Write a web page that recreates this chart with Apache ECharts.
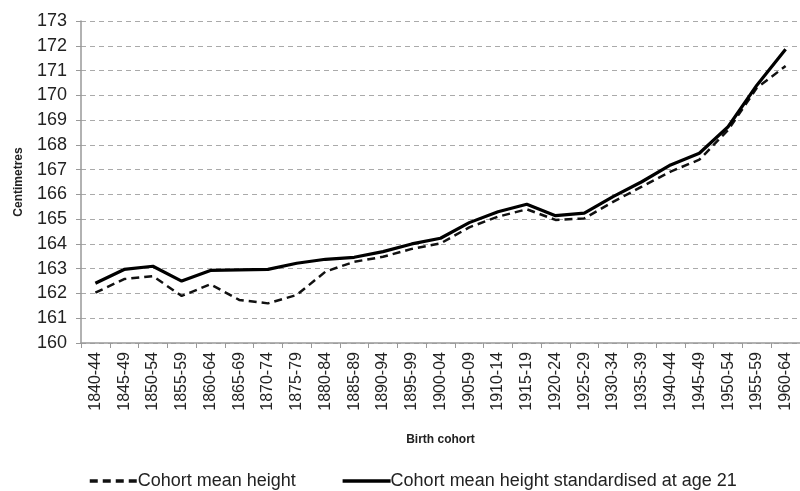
<!DOCTYPE html>
<html>
<head>
<meta charset="utf-8">
<script src="https://cdn.jsdelivr.net/npm/echarts@6/dist/echarts.min.js"></script>
<style>
  html, body { margin: 0; padding: 0; background: #fff; }
  #chart { width: 800px; height: 491px; }
</style>
</head>
<body>
<div id="chart"></div>
<script>
  // birth cohorts
  var cohorts = ['1840-44','1845-49','1850-54','1855-59','1860-64','1865-69','1870-74',
    '1875-79','1880-84','1885-89','1890-94','1895-99','1900-04','1905-09','1910-14',
    '1915-19','1920-24','1925-29','1930-34','1935-39','1940-44','1945-49','1950-54',
    '1955-59','1960-64']
  // cohort mean height (dashed)
  var meanHeight = [162.03, 162.58, 162.7, 161.9, 162.37, 161.74, 161.6, 161.94, 162.88,
    163.28, 163.48, 163.8, 164.02, 164.67, 165.1, 165.4, 164.97, 165.03, 165.7, 166.31,
    166.92, 167.4, 168.6, 170.3, 171.18]
  // standardised at age 21 (solid)
  var stdHeight = [162.41, 162.97, 163.1, 162.5, 162.93, 162.95, 162.97, 163.22, 163.38,
    163.46, 163.69, 164.0, 164.23, 164.86, 165.3, 165.6, 165.14, 165.24, 165.91, 166.51,
    167.19, 167.66, 168.73, 170.41, 171.86]
  var seriesNames = ['Cohort mean height', 'Cohort mean height standardised at age 21']

  var font = 'Liberation Sans, Arial, sans-serif'
  var chart = echarts.init(document.getElementById('chart'))

  var option = {
    animation: false,
    backgroundColor: '#fff',
    textStyle: { fontFamily: font },
    grid: { left: 81, top: 21, right: -7, bottom: 148, containLabel: false },
    legend: {
      left: 83,
      bottom: -4,
      itemWidth: 48,
      itemHeight: 10,
      itemGap: 45,
      itemStyle: { opacity: 0 },
      lineStyle: { width: 3.5 },
      textStyle: { fontSize: 18, color: '#222', fontFamily: font, padding: [0, 0, 0, -5] },
      data: seriesNames
    },
    xAxis: {
      type: 'category',
      data: cohorts,
      boundaryGap: true,
      name: 'Birth cohort',
      nameLocation: 'middle',
      nameGap: 91,
      nameTextStyle: { fontSize: 12, fontWeight: 'bold', color: '#222' },
      axisLine: { lineStyle: { color: '#999', width: 1.5 } },
      axisTick: { show: true, length: 5, lineStyle: { color: '#999' } },
      axisLabel: { rotate: 90, fontSize: 16, color: '#222', margin: 9, interval: 0 }
    },
    yAxis: {
      type: 'value',
      min: 160,
      max: 173,
      interval: 1,
      name: 'Centimetres',
      nameLocation: 'middle',
      nameGap: 56,
      nameTextStyle: { fontSize: 12, fontWeight: 'bold', color: '#222' },
      axisLine: { show: true, lineStyle: { color: '#999', width: 1.5 } },
      axisTick: { show: true, length: 5, lineStyle: { color: '#999' } },
      axisLabel: { fontSize: 18, color: '#222', margin: 14 },
      splitLine: { lineStyle: { color: '#aaa', type: [5, 4], width: 1.2 } }
    },
    series: [
      {
        name: seriesNames[0],
        type: 'line',
        data: meanHeight,
        symbol: 'none',
        lineStyle: { color: '#111', width: 2.5, type: [8, 5] },
        itemStyle: { color: '#111' }
      },
      {
        name: seriesNames[1],
        type: 'line',
        data: stdHeight,
        symbol: 'none',
        lineStyle: { color: '#000', width: 3.2 },
        itemStyle: { color: '#000' }
      }
    ]
  }

  chart.setOption(option)
</script>
</body>
</html>
